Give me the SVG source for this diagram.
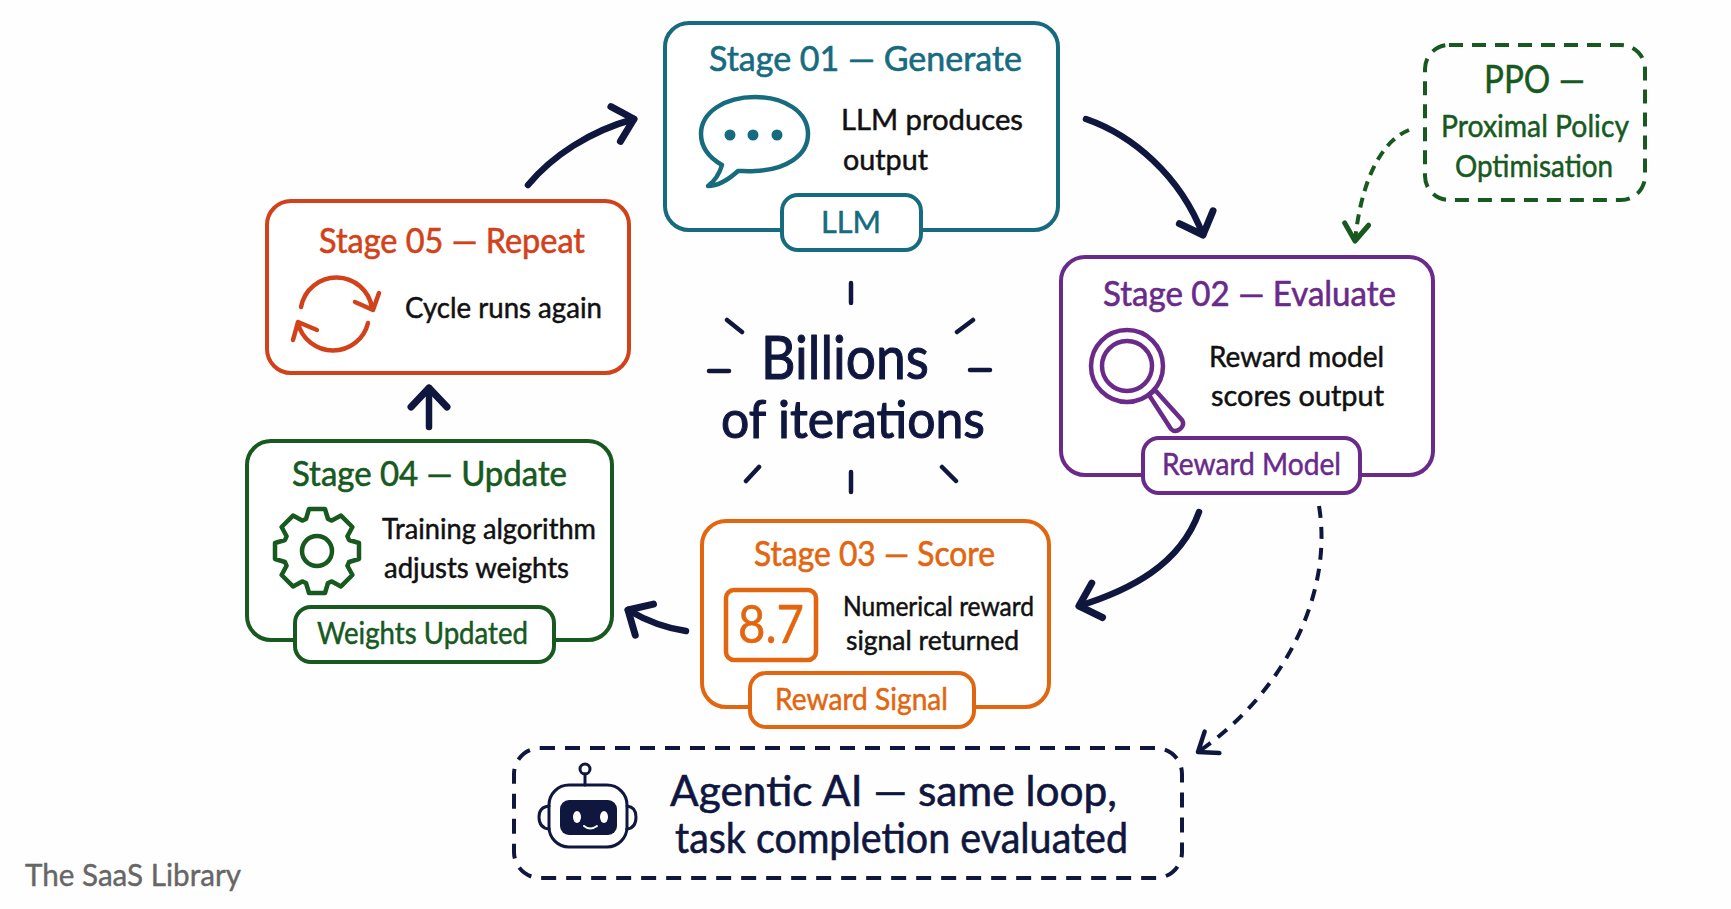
<svg xmlns="http://www.w3.org/2000/svg" width="1731" height="909" viewBox="0 0 1731 909">
<style>
text{font-family:"Lato","Noto Sans","Liberation Sans",sans-serif;stroke-linejoin:round;paint-order:stroke}
.box{fill:#fff;stroke-width:4}
.pill{fill:#fff;stroke-width:4}
.ico{fill:none;stroke-width:4.5;stroke-linecap:round;stroke-linejoin:round}
.t{font-size:34px;stroke-width:.6}
.b{font-size:29px;fill:#111;stroke:#111;stroke-width:.5}
.l{font-size:30px;stroke-width:.5}
.teal{fill:#176B7F;stroke:#176B7F}
.purple{fill:#6A2A8A;stroke:#6A2A8A}
.orange{fill:#E2660F;stroke:#E2660F}
.red{fill:#D2421A;stroke:#D2421A}
.green{fill:#17591F;stroke:#17591F}
.navy{fill:#10173F;stroke:#10173F}
.box.teal,.box.purple,.box.orange,.box.red,.box.green,.pill.teal,.pill.purple,.pill.orange,.pill.green{fill:#fff}
.ico.teal,.ico.purple,.ico.orange,.ico.red,.ico.green,.ico.navy{fill:none}
.solid{fill:none;stroke:#10173F;stroke-width:6.5;stroke-linecap:round;marker-end:url(#headNavy)}
.ray{fill:none;stroke:#10173F;stroke-width:4.5;stroke-linecap:round}
</style>
<defs>
<marker id="headNavy" markerUnits="userSpaceOnUse" markerWidth="50" markerHeight="50" refX="32" refY="25" orient="auto">
<path d="M13 7 L32 25 L13 43" fill="none" stroke="#10173F" stroke-width="7" stroke-linecap="round" stroke-linejoin="round"/>
</marker>
<marker id="headNavyS" markerUnits="userSpaceOnUse" markerWidth="40" markerHeight="40" refX="26" refY="20" orient="auto">
<path d="M9 7 L26 20 L9 33" fill="none" stroke="#10173F" stroke-width="4.5" stroke-linecap="round" stroke-linejoin="round"/>
</marker>
<marker id="headGreen" markerUnits="userSpaceOnUse" markerWidth="40" markerHeight="40" refX="26" refY="20" orient="auto">
<path d="M9 8 L26 20 L9 32" fill="none" stroke="#17591F" stroke-width="5" stroke-linecap="round" stroke-linejoin="round"/>
</marker>
</defs>
<rect width="1731" height="909" fill="#FEFEFE"/>

<g id="connectors">
<path class="solid" d="M528 185 C 552 156, 590 131, 634 119"/>
<path class="solid" d="M1086 119 C 1132 135, 1180 175, 1203 235"/>
<path class="solid" d="M1199 512 C 1180 565, 1130 590, 1079 606"/>
<path class="solid" d="M686 631 C 665 628, 645 620, 628 610"/>
<path class="solid" d="M429 427 L429 388"/>
<path d="M1409 130 C 1377 143, 1360 190, 1355 241" fill="none" stroke="#17591F" stroke-width="4" stroke-dasharray="10 7" marker-end="url(#headGreen)"/>
<path d="M1319 506 C 1333 590, 1288 690, 1198 752" fill="none" stroke="#10173F" stroke-width="4" stroke-dasharray="12 9" marker-end="url(#headNavyS)"/>
</g>

<g id="stage01">
<rect class="box teal" x="665" y="23" width="393" height="207" rx="24"/>
<rect class="pill teal" x="782" y="195" width="139" height="55" rx="16"/>
<path class="ico teal" d="M738 171 C 728 180, 718 186, 708 186 C 716 180, 720 172, 722 165 C 708 157, 701 146, 701 134 C 701 112, 725 97, 755 97 C 785 97, 808 112, 808 134 C 808 156, 785 170, 755 171 C 748 171.5, 743 171, 738 171 Z"/>
<circle cx="730" cy="135" r="5.5" fill="#176B7F"/><circle cx="753" cy="135" r="5.5" fill="#176B7F"/><circle cx="777" cy="135" r="5.5" fill="#176B7F"/>
<text class="t teal" x="709" y="71" textLength="313" lengthAdjust="spacingAndGlyphs">Stage 01 — Generate</text>
<text class="b" x="841" y="130" textLength="182" lengthAdjust="spacingAndGlyphs">LLM produces</text>
<text class="b" x="843" y="170" textLength="85" lengthAdjust="spacingAndGlyphs">output</text>
<text class="l teal" x="821" y="233" textLength="60" lengthAdjust="spacingAndGlyphs">LLM</text>
</g>

<g id="stage02">
<rect class="box purple" x="1061" y="257" width="372" height="218" rx="24"/>
<rect class="pill purple" x="1143" y="438" width="217" height="55" rx="16"/>
<circle class="ico purple" cx="1127" cy="366" r="36"/>
<circle class="ico purple" cx="1127" cy="366" r="25"/>
<path class="ico purple" d="M1149 395 L1155 390 L1182 420 Q1185 425 1180 429 Q1175 433 1171 429 Z"/>
<text class="t purple" x="1103" y="306" textLength="293" lengthAdjust="spacingAndGlyphs">Stage 02 — Evaluate</text>
<text class="b" x="1209" y="367" textLength="175" lengthAdjust="spacingAndGlyphs">Reward model</text>
<text class="b" x="1211" y="406" textLength="173" lengthAdjust="spacingAndGlyphs">scores output</text>
<text class="l purple" x="1162" y="475" textLength="179" lengthAdjust="spacingAndGlyphs">Reward Model</text>
</g>

<g id="stage03">
<rect class="box orange" x="702" y="521" width="347" height="186" rx="24"/>
<rect class="pill orange" x="750" y="673" width="224" height="54" rx="16"/>
<rect class="ico orange" x="726" y="590" width="90" height="70" rx="8"/>
<text class="t orange" x="754" y="566" textLength="241" lengthAdjust="spacingAndGlyphs">Stage 03 — Score</text>
<text class="orange" x="738" y="643" font-size="52" stroke-width=".5" textLength="66" lengthAdjust="spacingAndGlyphs">8.7</text>
<text class="b" x="843" y="616" textLength="191" lengthAdjust="spacingAndGlyphs" style="font-size:27px">Numerical reward</text>
<text class="b" x="846" y="650" textLength="173" lengthAdjust="spacingAndGlyphs" style="font-size:27px">signal returned</text>
<text class="l orange" x="775" y="710" textLength="173" lengthAdjust="spacingAndGlyphs">Reward Signal</text>
</g>

<g id="stage04">
<rect class="box green" x="247" y="441" width="365" height="199" rx="24"/>
<rect class="pill green" x="295" y="607" width="259" height="55" rx="16"/>
<g transform="translate(317 551)">
<path class="ico green" d="M-11 -32 L-8 -42 L8 -42 L11 -32 L14.800 -30.400 L24 -35.400 L35.400 -24 L30.400 -14.800 L32 -11 L42 -8 L42 8 L32 11 L30.400 14.800 L35.400 24 L24 35.400 L14.800 30.400 L11 32 L8 42 L-8 42 L-11 32 L-14.800 30.400 L-24 35.400 L-35.400 24 L-30.400 14.800 L-32 11 L-42 8 L-42 -8 L-32 -11 L-30.400 -14.800 L-35.400 -24 L-24 -35.400 L-14.800 -30.400 Z"/>
<circle class="ico green" r="15"/>
</g>
<text class="t green" x="292" y="486" textLength="275" lengthAdjust="spacingAndGlyphs">Stage 04 — Update</text>
<text class="b" x="382" y="539" textLength="214" lengthAdjust="spacingAndGlyphs">Training algorithm</text>
<text class="b" x="384" y="578" textLength="185" lengthAdjust="spacingAndGlyphs">adjusts weights</text>
<text class="l green" x="317" y="644" textLength="211" lengthAdjust="spacingAndGlyphs">Weights Updated</text>
</g>

<g id="stage05">
<rect class="box red" x="267" y="201" width="362" height="172" rx="24"/>
<path class="ico red" d="M301 307 A36 36 0 0 1 372 308 M355 302 L373 310 L379 293 M368 323 A36 36 0 0 1 298 323 M293 340 L298 322 L317 330"/>
<text class="t red" x="319" y="253" textLength="266" lengthAdjust="spacingAndGlyphs">Stage 05 — Repeat</text>
<text class="b" x="405" y="318" textLength="197" lengthAdjust="spacingAndGlyphs">Cycle runs again</text>
</g>

<g id="ppo">
<rect x="1425" y="45" width="220" height="155" rx="24" fill="none" stroke="#17591F" stroke-width="4" stroke-dasharray="14 9"/>
<text class="green" x="1484" y="93" font-size="38" stroke-width=".5" textLength="101" lengthAdjust="spacingAndGlyphs">PPO —</text>
<text class="green" x="1441" y="137" font-size="31" stroke-width=".5" textLength="188" lengthAdjust="spacingAndGlyphs">Proximal Policy</text>
<text class="green" x="1455" y="177" font-size="31" stroke-width=".5" textLength="158" lengthAdjust="spacingAndGlyphs">Optimisation</text>
</g>

<g id="centre">
<path class="ray" d="M851 283 V303 M851 472 V492 M709 371 H729 M970 370 H990 M727 320 L742 332 M973 320 L957 332 M759 467 L746 481 M942 467 L956 481"/>
<text class="navy" x="761" y="379" font-size="60" stroke-width="1.1" textLength="168" lengthAdjust="spacingAndGlyphs">Billions</text>
<text class="navy" x="721" y="438" font-size="52" stroke-width="1.1" textLength="264" lengthAdjust="spacingAndGlyphs">of iterations</text>
</g>

<g id="agentic">
<rect x="514" y="748" width="668" height="130" rx="26" fill="none" stroke="#10173F" stroke-width="4" stroke-dasharray="15 10"/>
<g id="robot">
<circle class="ico navy" cx="585" cy="769" r="5" style="stroke-width:3"/>
<path class="ico navy" d="M585 774 V785" style="stroke-width:3"/>
<rect class="ico navy" x="549" y="785" width="78" height="62" rx="20" style="stroke-width:3"/>
<rect x="560" y="800" width="57" height="35" rx="9" fill="#10173F"/>
<path class="ico navy" d="M549 806 Q539 807 539 817 Q539 828 549 829 M627 806 Q636 807 636 817 Q636 828 627 829" style="stroke-width:3"/>
<ellipse cx="577" cy="817" rx="4" ry="6" fill="#fff"/><ellipse cx="604" cy="817" rx="4" ry="6" fill="#fff"/>
<path d="M584 826 Q590 831 597 826" fill="none" stroke="#fff" stroke-width="2" stroke-linecap="round"/>
</g>
<text class="navy" x="670" y="806" font-size="43" stroke-width=".6" textLength="447" lengthAdjust="spacingAndGlyphs">Agentic AI — same loop,</text>
<text class="navy" x="675" y="853" font-size="43" stroke-width=".6" textLength="453" lengthAdjust="spacingAndGlyphs">task completion evaluated</text>
</g>

<text id="credit" x="25" y="886" font-size="30" fill="#666" stroke="#666" stroke-width=".4" textLength="216" lengthAdjust="spacingAndGlyphs">The SaaS Library</text>
</svg>
